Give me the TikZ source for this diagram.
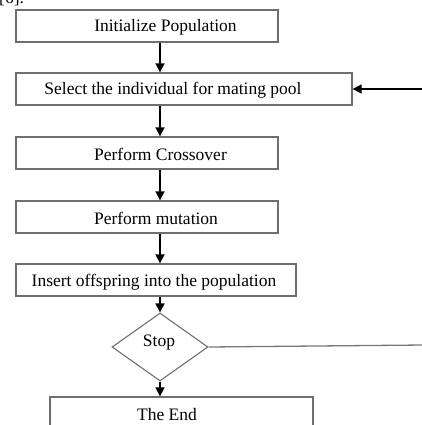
\documentclass[tikz,border=0pt]{standalone}
\usepackage{fontspec}
\setmainfont{Liberation Serif}
\usetikzlibrary{arrows.meta,shapes.geometric}
\begin{document}
\begin{tikzpicture}[x=1pt,y=-1pt,
  boxstyle/.style={draw={rgb,255:red,110;green,110;blue,110},line width=1.3pt,rectangle,inner sep=0pt},
  txt/.style={inner sep=0pt,font=\fontsize{17.5}{20}\selectfont},
  arr/.style={line width=1.6pt,-{Triangle[width=9pt,length=9pt]}},
  plain/.style={draw={rgb,255:red,120;green,120;blue,120},line width=1.3pt}]
\clip (0,0) rectangle (422,425);
% partially visible text at top
\node[txt,anchor=base west] (ref) at (-1,4) {[6].};
% boxes
\node[boxstyle,minimum width=262pt,minimum height=32pt] (b1) at (147,26) {};
\node[boxstyle,minimum width=336pt,minimum height=32pt] (b2) at (184,89) {};
\node[boxstyle,minimum width=262pt,minimum height=32pt] (b3) at (147,153) {};
\node[boxstyle,minimum width=262pt,minimum height=32pt] (b4) at (147,217) {};
\node[boxstyle,minimum width=280pt,minimum height=32pt] (b5) at (156,280) {};
\node[diamond,draw={rgb,255:red,110;green,110;blue,110},line width=1.1pt,inner sep=0pt,minimum width=96pt,minimum height=68pt] (d) at (160,347) {};
\node[boxstyle,minimum width=263pt,minimum height=40pt] (b6) at (181.5,417) {};
% texts
\node[txt] (t1) at (165.5,27) {Initialize Population};
\node[txt] (t2) at (173,90) {Select the individual for mating pool};
\node[txt] (t3) at (160.5,154) {Perform Crossover};
\node[txt] (t4) at (156,218) {Perform mutation};
\node[txt] (t5) at (154,282) {Insert offspring into the population};
\node[txt] (t6) at (159,343) {Stop};
\node[txt] (t7) at (167,415) {The End};
% connectors
\coordinate (sp) at (160,0);
\draw[arr] (b1.south -| sp) -- (b2.north -| sp);
\draw[arr] (b2.south -| sp) -- (b3.north -| sp);
\draw[arr] (b3.south -| sp) -- (b4.north -| sp);
\draw[arr] (b4.south -| sp) -- (b5.north -| sp);
\draw[arr] (b5.south -| sp) -- (d.north);
\draw[arr] (d.south) -- (b6.north -| sp);
\coordinate (fb) at (424,89);
\draw[arr] (fb) -- (b2.east |- fb);
\coordinate (se) at (424,345);
\draw[plain] (d.east) -- (se);
\end{tikzpicture}
\end{document}
